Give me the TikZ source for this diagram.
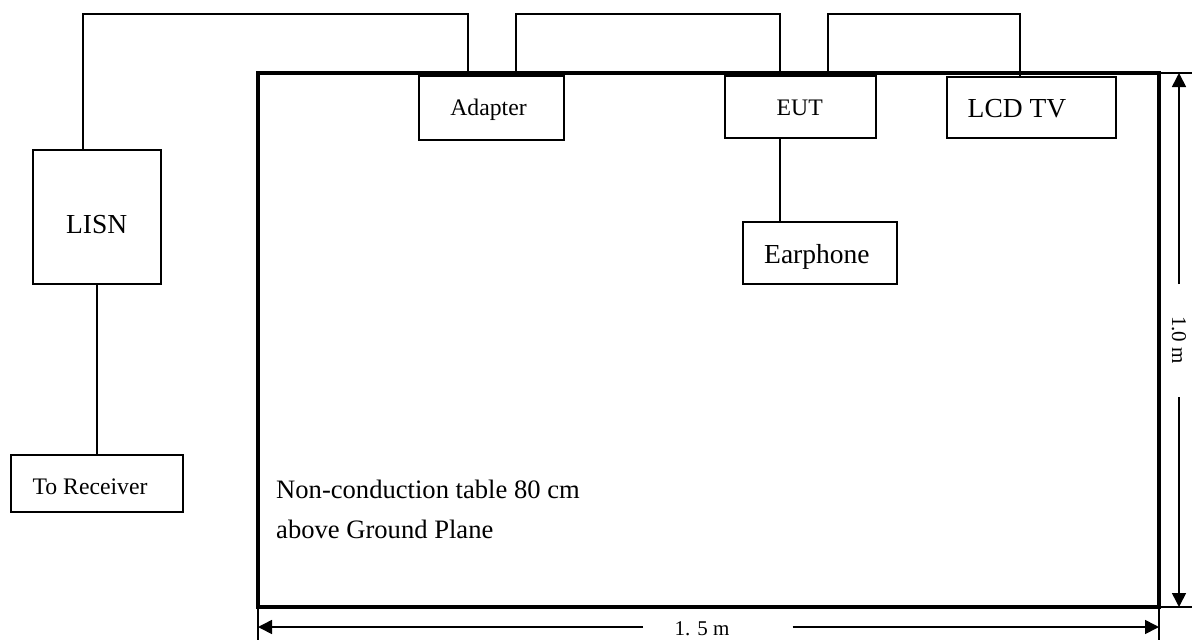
\documentclass[tikz,border=0pt]{standalone}
\usepackage{fontspec}
\setmainfont{Liberation Serif}
\usetikzlibrary{arrows.meta}
\newcommand\offtext[3]{\makebox[0pt][c]{\kern#1\raisebox{#2}{#3}}}
\tikzset{
  box/.style={draw, line width=2pt, inner sep=0pt, outer sep=0pt, anchor=center},
  bigtext/.style={font=\fontsize{27.5}{33}\selectfont, text height=18.2pt, text depth=0pt},
  smalltext/.style={font=\fontsize{23.7}{28}\selectfont, text height=15.7pt, text depth=0pt},
  wire/.style={line width=2pt},
  tablebox/.style={draw, line width=3.5pt, inner sep=0pt, outer sep=0pt, anchor=center},
  dimline/.style={line width=1.6pt},
  dimarrow/.style={line width=1.6pt, -{Triangle[length=14pt,width=14pt]}},
  plaintext/.style={inner sep=0pt, font=\fontsize{26.6}{40}\selectfont},
  dimtext/.style={inner sep=0pt, font=\fontsize{21}{25}\selectfont}
}
\begin{document}
\begin{tikzpicture}[x=1pt, y=-1pt]
\useasboundingbox (0,0) rectangle (1192,640);

% table
\node[tablebox, minimum width=901pt, minimum height=534pt] (table) at (708.5,340) {};

% boxes
\node[box, bigtext, minimum width=128.5pt, minimum height=134pt] (lisn) at (96.75,217) {\offtext{0pt}{-7pt}{LISN}};
\node[box, smalltext, minimum width=172.3pt, minimum height=57pt] (rx) at (96.85,483.5) {\offtext{-13.7pt}{-3.5pt}{To Receiver}};
\node[box, smalltext, minimum width=145pt, minimum height=64pt] (adapter) at (491.5,108) {\offtext{-6pt}{0.7pt}{Adapter}};
\node[box, smalltext, minimum width=151.4pt, minimum height=62pt] (eut) at (800.3,107) {\offtext{-1.2pt}{-1pt}{EUT}};
\node[box, bigtext, minimum width=168.7pt, minimum height=61.5pt] (lcd) at (1031.35,107.25) {\offtext{-28.7pt}{-0.75pt}{LCD TV}};
\node[box, bigtext, minimum width=154pt, minimum height=62pt] (ear) at (820,253) {\offtext{-6.2pt}{-1pt}{Earphone}};

% table text
\node[plaintext, anchor=base west] (tt1) at (276,498) {Non-conduction table 80 cm};
\node[plaintext, anchor=base west] (tt2) at (276,538) {above Ground Plane};

% wires
\draw[wire] (83,0 |- lisn.north) |- (468,14) -- (468,0 |- adapter.north);
\draw[wire] (515.7,0 |- adapter.north) |- (780,14) -- (780,0 |- eut.north);
\draw[wire] (827.6,0 |- eut.north) |- (1019.8,14) -- (1019.8,0 |- lcd.north);
\draw[wire] (780,0 |- eut.south) -- (780,0 |- ear.north);
\draw[wire] (lisn.south) -- (lisn.south |- rx.north);

% extension lines
\coordinate (ne) at (1192,73);
\coordinate (se) at (1192,607);
\coordinate (sr) at (1159,640);
\coordinate (sl) at (258,640);
\draw[dimline] (table.north east) -- (ne);
\draw[dimline] (table.south east) -- (se);
\draw[dimline] (table.south east) -- (sr);
\draw[dimline] (table.south west) -- (sl);

% vertical dimension
\coordinate (v1) at (1179,284);
\coordinate (v1t) at (1179,73);
\coordinate (v2) at (1179,397);
\coordinate (v2t) at (1179,607);
\draw[dimarrow] (v1) -- (v1t);
\draw[dimarrow] (v2) -- (v2t);
\node[dimtext, rotate=-90] (vlabel) at (1179,340) {1.0 m};

% horizontal dimension
\coordinate (h1) at (643,627);
\coordinate (h1t) at (258,627);
\coordinate (h2) at (792.5,627);
\coordinate (h2t) at (1159,627);
\draw[dimarrow] (h1) -- (h1t);
\draw[dimarrow] (h2) -- (h2t);
\node[dimtext, anchor=base] (hlabel) at (702,635) {1. 5 m};
\end{tikzpicture}
\end{document}
